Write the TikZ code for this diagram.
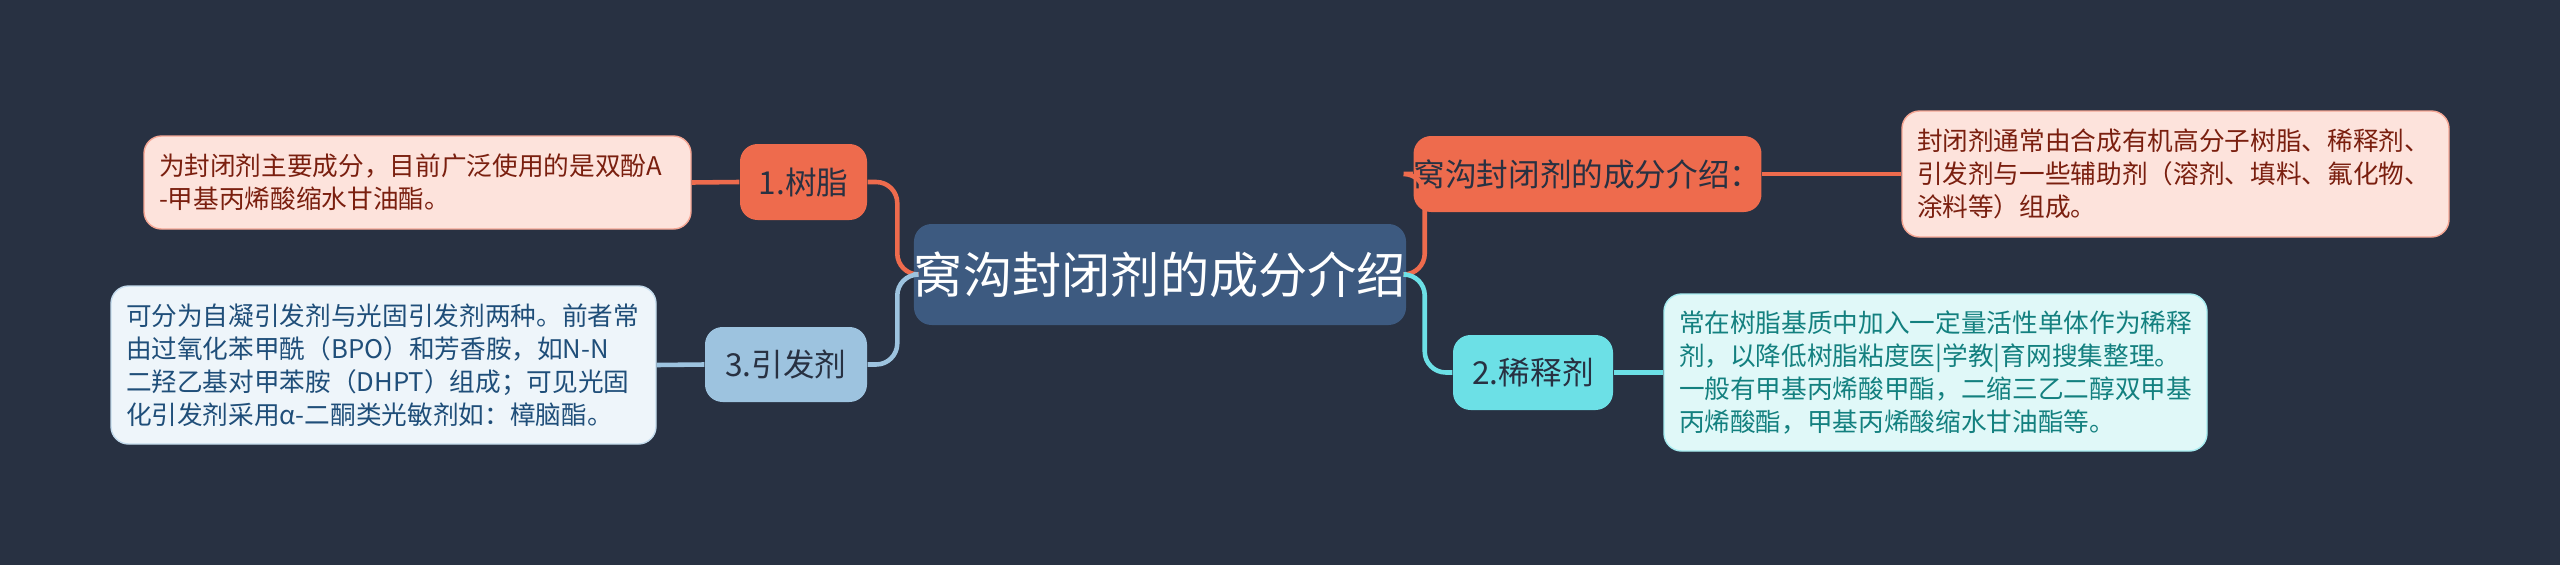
\documentclass[tikz,border=0pt]{standalone}
\usepackage{fontspec}
\setmainfont{Noto Sans CJK SC}
\begin{document}
\begin{tikzpicture}
\definecolor{bg}{HTML}{283142}
\definecolor{cmain}{HTML}{3D5A80}
\definecolor{cred}{HTML}{EE6B4D}
\definecolor{lred}{HTML}{FDE3DC}
\definecolor{tred}{HTML}{7A1F0F}
\definecolor{cblue}{HTML}{9DC3DF}
\definecolor{lblue}{HTML}{EEF5FA}
\definecolor{tblue}{HTML}{1F4E79}
\definecolor{ccyan}{HTML}{6CE0E6}
\definecolor{lcyan}{HTML}{E0F8F8}
\definecolor{tcyan}{HTML}{13807F}
\tikzset{
 box/.style={rounded corners=5pt,inner sep=0pt,align=center},
 branchbox/.style={box,font=\fontsize{9}{11}\selectfont,text=bg},
 leafbox/.style={rounded corners=5pt,inner sep=0pt,align=left,draw=#1!60!white,line width=0.4pt,font=\fontsize{7.3}{9.4}\selectfont},
 conn/.style={line width=1.3pt,rounded corners=6pt}
}
\fill[bg] (0,0) rectangle (25.6,5.65);
\useasboundingbox (0,0) rectangle (25.6,5.65);
\node[box,fill=cmain,text=white,minimum width=4.88cm,minimum height=1.01cm,font=\fontsize{14}{16}\selectfont] (c) at (11.60,2.905) {窝沟封闭剂的成分介绍};
\node[branchbox,fill=cred,minimum width=1.27cm,minimum height=0.76cm] (b1) at (8.035,3.83) {1.树脂};
\node[branchbox,fill=cblue,minimum width=1.62cm,minimum height=0.75cm] (b3) at (7.86,2.005) {3.引发剂};
\node[branchbox,fill=cred,minimum width=2.69cm,minimum height=0.76cm] (r1) at (15.875,3.91) {窝沟封闭剂的成分介绍：};
\node[branchbox,fill=ccyan,minimum width=1.60cm,minimum height=0.75cm] (b2) at (15.33,1.925) {2.稀释剂};
\node[leafbox=cred,fill=lred,text=tred,minimum width=5.47cm,minimum height=0.93cm,text width=5.17cm] (l1) at (4.175,3.825) {为封闭剂主要成分，目前广泛使用的是双酚A\\-甲基丙烯酸缩水甘油酯。};
\node[leafbox=cblue,fill=lblue,text=tblue,minimum width=5.45cm,minimum height=1.58cm,text width=5.15cm] (l3) at (3.835,2.0) {可分为自凝引发剂与光固引发剂两种。前者常\\由过氧化苯甲酰（BPO）和芳香胺，如N-N\\二羟乙基对甲苯胺（DHPT）组成；可见光固\\化引发剂采用α-二酮类光敏剂如：樟脑酯。};
\node[leafbox=cred,fill=lred,text=tred,minimum width=5.47cm,minimum height=1.26cm,text width=5.17cm] (rl1) at (21.755,3.91) {封闭剂通常由合成有机高分子树脂、稀释剂、\\引发剂与一些辅助剂（溶剂、填料、氟化物、\\涂料等）组成。};
\node[leafbox=ccyan,fill=lcyan,text=tcyan,minimum width=5.43cm,minimum height=1.57cm,text width=5.13cm] (rl2) at (19.355,1.925) {常在树脂基质中加入一定量活性单体作为稀释\\剂，以降低树脂粘度医|学教|育网搜集整理。\\一般有甲基丙烯酸甲酯，二缩三乙二醇双甲基\\丙烯酸酯，甲基丙烯酸缩水甘油酯等。};
\begin{scope}[on background layer/.style={}]
\end{scope}
\draw[conn,cred] (c.west) -- ++(-0.16,0) |- (b1.east);
\draw[conn,cblue] (c.west) -- ++(-0.16,0) |- (b3.east);
\draw[conn,cred] (c.east) -- ++(0.18,0) |- (r1.west);
\draw[conn,ccyan] (c.east) -- ++(0.18,0) |- (b2.west);
\draw[line width=1.3pt,cred] (b1.west) -- (l1.east);
\draw[line width=1.3pt,cblue] (b3.west) -- (l3.east);
\draw[line width=1.3pt,cred] (r1.east) -- (rl1.west);
\draw[line width=1.3pt,ccyan] (b2.east) -- (rl2.west);
\end{tikzpicture}
\end{document}
